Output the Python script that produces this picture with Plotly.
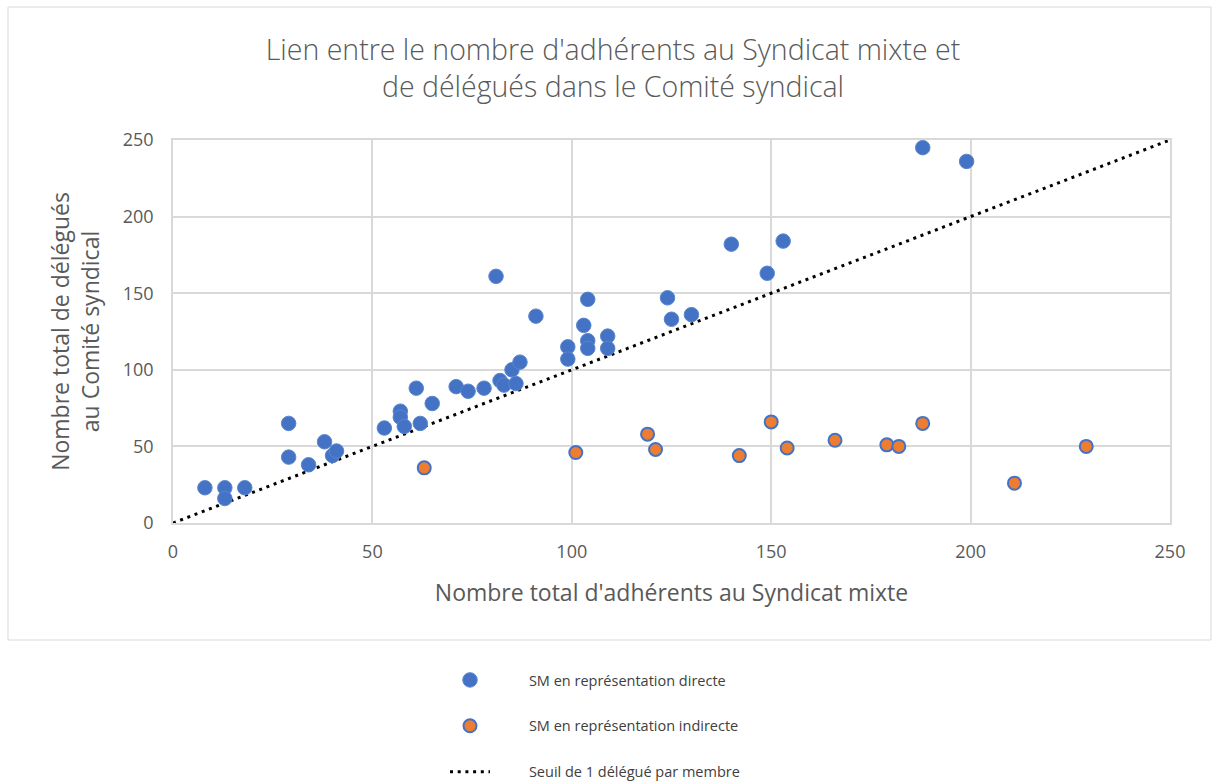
import plotly.graph_objects as go

# Data
direct_x = [8, 13, 13, 18, 29, 29, 34, 38, 40, 41, 53, 57, 57, 58, 61, 62, 65, 71, 74, 78,
            81, 82, 83, 85, 86, 87, 91, 99, 99, 103, 104, 104, 104, 109, 109, 124, 125, 130,
            140, 149, 153, 188, 199]
direct_y = [23, 23, 16, 23, 65, 43, 38, 53, 44, 47, 62, 73, 69, 63, 88, 65, 78, 89, 86, 88,
            161, 93, 90, 100, 91, 105, 135, 115, 107, 129, 146, 119, 114, 122, 114, 147, 133, 136,
            182, 163, 184, 245, 236]

indirect_x = [63, 101, 119, 121, 142, 150, 154, 166, 179, 182, 188, 211, 229]
indirect_y = [36, 46, 58, 48, 44, 66, 49, 54, 51, 50, 65, 26, 50]

threshold_x = [0, 250]
threshold_y = [0, 250]

tick_vals = [0, 50, 100, 150, 200, 250]

title_text = "Lien entre le nombre d'adhérents au Syndicat mixte et<br>de délégués dans le Comité syndical"
x_title = "Nombre total d'adhérents au Syndicat mixte"
y_title = "Nombre total de délégués<br>au Comité syndical"
names = ["SM en représentation directe", "SM en représentation indirecte", "Seuil de 1 délégué par membre"]

BLUE = "#4472C4"
ORANGE = "#ED7D31"
GREY = "#595959"
FONT = "Open Sans"
PAD = "\u00a0" * 9

fig = go.Figure()
fig.add_trace(go.Scatter(
    x=threshold_x, y=threshold_y, mode="lines", name=PAD + names[2],
    line=dict(color="black", width=3, dash="3px,4.7px"),
    legendgroup="c", legendrank=3, hoverinfo="skip"))
fig.add_trace(go.Scatter(
    x=direct_x, y=direct_y, mode="markers", name=PAD + names[0],
    marker=dict(color=BLUE, size=14.5, line=dict(color="#5A86D0", width=1)),
    legendgroup="a", legendrank=1))
fig.add_trace(go.Scatter(
    x=indirect_x, y=indirect_y, mode="markers", name=PAD + names[1],
    marker=dict(color=ORANGE, size=13, line=dict(color=BLUE, width=2)),
    legendgroup="b", legendrank=2))

L, R, T, B = 173, 43, 140, 259
W, H = 1213, 782
pw, ph = W - L - R, H - T - B

def px_x(p):
    return (p - L) / pw

def px_y(p):
    return (H - B - p) / ph

fig.update_layout(
    width=W, height=H,
    margin=dict(l=L, r=R, t=T, b=B, autoexpand=False),
    paper_bgcolor="white", plot_bgcolor="white",
    font=dict(family=FONT, color=GREY),
    title=dict(text=title_text, x=(613) / W, xanchor="center", xref="container",
               y=1 - 60 / H, yanchor="middle",
               font=dict(size=28.5, color=GREY, family=FONT, weight=300)),
    showlegend=True,
    legend=dict(x=px_x(445), y=px_y(664), xanchor="left", yanchor="top",
                orientation="v", font=dict(size=14.5, color="#404040", family=FONT),
                tracegroupgap=24, itemwidth=40, bgcolor="rgba(0,0,0,0)"),
    shapes=[dict(type="rect", xref="paper", yref="paper",
                 x0=px_x(8), x1=px_x(1211), y0=px_y(640), y1=px_y(7),
                 line=dict(color="#D9D9D9", width=1), layer="below")],
)
fig.update_xaxes(range=[0, 250], tickvals=tick_vals, showgrid=True, gridcolor="#D9D9D9",
                 gridwidth=1.5, zeroline=False, showline=True, linecolor="#D9D9D9", linewidth=1.5,
                 mirror=True, ticks="", tickfont=dict(size=18, color=GREY),
                 ticklabelstandoff=12,
                 title=dict(text=x_title, font=dict(size=23, color=GREY), standoff=23))
fig.update_yaxes(range=[0, 250], tickvals=tick_vals, showgrid=True, gridcolor="#D9D9D9",
                 gridwidth=1.5, zeroline=False, showline=True, linecolor="#D9D9D9", linewidth=1.5,
                 mirror=True, ticks="", tickfont=dict(size=18, color=GREY),
                 ticklabelstandoff=14,
                 title=dict(text=y_title, font=dict(size=23, color=GREY), standoff=17))

html = fig.to_html(full_html=True, include_plotlyjs=True, config={"displayModeBar": False})
html = html.replace("<body>", '<body style="margin:0;padding:0;">', 1)
with open("out.html", "w", encoding="utf-8") as f:
    f.write(html)
